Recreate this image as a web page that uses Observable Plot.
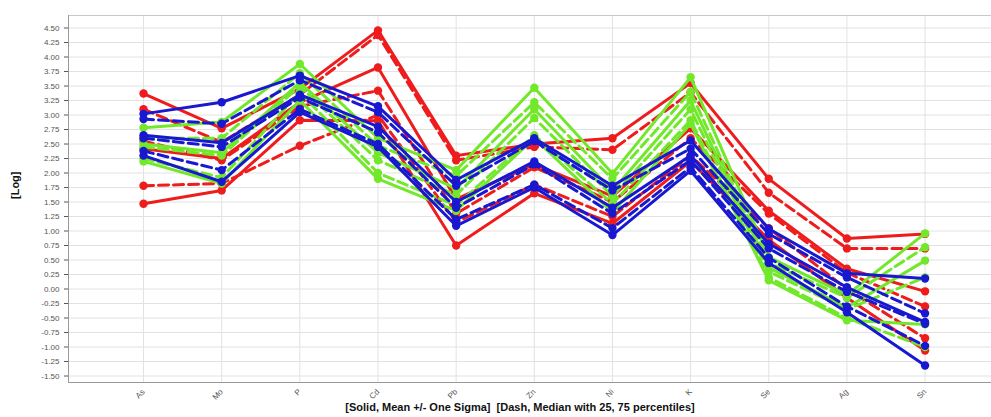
<!DOCTYPE html>
<html>
<head>
<meta charset="utf-8">
<script src="https://cdn.jsdelivr.net/npm/d3@7"></script>
<script src="https://cdn.jsdelivr.net/npm/@observablehq/plot@0.6"></script>
<style>
  html, body { margin: 0; padding: 0; background: #fff; overflow: hidden; }
  #chart svg { display: block; }
</style>
</head>
<body>
<div id="chart"></div>
<script>
const categories = ["As", "Mo", "P", "Cd", "Pb", "Zn", "Ni", "K", "Se", "Ag", "Sn"];
const yTickValues = [-1.5, -1.25, -1, -0.75, -0.5, -0.25, 0, 0.25, 0.5, 0.75, 1, 1.25, 1.5, 1.75, 2, 2.25, 2.5, 2.75, 3, 3.25, 3.5, 3.75, 4, 4.25, 4.5];
const yLabel = "[Log]";
const caption = "[Solid, Mean +/- One Sigma]  [Dash, Median with 25, 75 percentiles]";

// Red group
const redPlusSigma  = [3.37, 2.77, 3.45, 4.46, 2.30, 2.50, 2.60, 3.55, 1.90, 0.87, 0.95];
const redMean       = [2.42, 2.25, 3.22, 3.82, 1.55, 2.15, 1.60, 2.77, 1.35, 0.35, -0.04];
const redMinusSigma = [1.47, 1.70, 2.91, 2.90, 0.75, 1.65, 1.13, 2.20, 0.85, -0.15, -1.06];
const redP75        = [3.10, 2.53, 3.35, 4.38, 2.22, 2.45, 2.40, 3.39, 1.66, 0.70, 0.70];
const redMedian     = [2.55, 2.22, 3.15, 3.42, 1.30, 2.10, 1.50, 2.60, 1.30, 0.28, -0.30];
const redP25        = [1.78, 1.82, 2.47, 3.00, 1.15, 1.80, 1.25, 2.30, 1.05, 0.00, -0.85];

// Blue group
const bluePlusSigma  = [3.02, 3.22, 3.68, 3.15, 1.88, 2.60, 1.78, 2.56, 1.04, 0.27, 0.18];
const blueMean       = [2.65, 2.52, 3.35, 2.80, 1.50, 2.20, 1.40, 2.30, 0.78, 0.03, -0.57];
const blueMinusSigma = [2.30, 1.85, 3.05, 2.45, 1.09, 1.75, 0.93, 2.04, 0.45, -0.40, -1.32];
const blueP75        = [2.93, 2.85, 3.60, 3.05, 1.78, 2.55, 1.70, 2.42, 0.95, 0.20, -0.42];
const blueMedian     = [2.60, 2.45, 3.30, 2.70, 1.40, 2.15, 1.30, 2.22, 0.70, -0.05, -0.60];
const blueP25        = [2.38, 2.05, 3.10, 2.50, 1.20, 1.80, 1.05, 2.10, 0.54, -0.30, -0.98];

// Green group
const greenPlusSigma  = [2.78, 2.88, 3.88, 2.60, 2.05, 3.47, 1.99, 3.65, 0.55, -0.10, 0.96];
const greenMean       = [2.50, 2.35, 3.56, 2.35, 1.73, 3.10, 1.70, 3.25, 0.37, -0.32, 0.49];
const greenMinusSigma = [2.20, 1.82, 3.25, 1.90, 1.35, 2.60, 1.32, 2.85, 0.15, -0.54, -0.61];
const greenP75        = [2.60, 2.60, 3.72, 2.47, 1.95, 3.22, 1.90, 3.40, 0.45, -0.15, 0.72];
const greenMedian     = [2.45, 2.30, 3.50, 2.22, 1.62, 2.95, 1.60, 3.10, 0.30, -0.35, 0.20];
const greenP25        = [2.25, 1.92, 3.39, 2.00, 1.44, 2.65, 1.47, 2.91, 0.20, -0.50, -1.00];

const RED = "#ee1c1c", BLUE = "#1818d0", GREEN = "#72e82a";

const series = [
  {values: redPlusSigma, color: RED, dash: false},
  {values: redMean, color: RED, dash: false},
  {values: redMinusSigma, color: RED, dash: false},
  {values: redP75, color: RED, dash: true},
  {values: redMedian, color: RED, dash: true},
  {values: redP25, color: RED, dash: true},
  {values: greenPlusSigma, color: GREEN, dash: false},
  {values: greenMean, color: GREEN, dash: false},
  {values: greenMinusSigma, color: GREEN, dash: false},
  {values: greenP75, color: GREEN, dash: true},
  {values: greenMedian, color: GREEN, dash: true},
  {values: greenP25, color: GREEN, dash: true},
  {values: bluePlusSigma, color: BLUE, dash: false},
  {values: blueMean, color: BLUE, dash: false},
  {values: blueMinusSigma, color: BLUE, dash: false},
  {values: blueP75, color: BLUE, dash: true},
  {values: blueMedian, color: BLUE, dash: true},
  {values: blueP25, color: BLUE, dash: true}
];

const seriesMarks = series.flatMap(s => {
  const rows = s.values.map((v, i) => ({i, v}));
  return [
    Plot.line(rows, {x: "i", y: "v", stroke: s.color, strokeWidth: 3, strokeDasharray: s.dash ? "10,5" : null}),
    Plot.dot(rows, {x: "i", y: "v", r: 4.2, fill: s.color, stroke: null})
  ];
});

const chart = Plot.plot({
  width: 991,
  height: 417,
  marginLeft: 68,
  marginRight: 0,
  marginTop: 15,
  marginBottom: 35,
  style: {fontFamily: "'Liberation Sans', Arial, sans-serif", background: "#fff"},
  x: {type: "linear", domain: [-0.96, 10.85]},
  y: {domain: [-1.612, 4.716]},
  marks: [
    Plot.gridY(yTickValues, {stroke: "#e2e2e2", strokeOpacity: 1}),
    Plot.gridX(d3.range(categories.length), {stroke: "#e2e2e2", strokeOpacity: 1}),
    Plot.frame({stroke: "#c8c8c8"}),
    Plot.ruleX([-0.96], {stroke: "#999"}),
    Plot.ruleY([-1.612], {stroke: "#999"}),
    Plot.axisY(yTickValues, {tickFormat: d => d.toFixed(2), fontSize: 8, tickSize: 4, color: "#555", label: null}),
    Plot.axisX(d3.range(categories.length), {tickFormat: i => categories[i], tickRotate: -45, fontSize: 8, tickSize: 0, tickPadding: 8, color: "#555", label: null}),
    ...seriesMarks,
    Plot.text([yLabel], {frameAnchor: "left", dx: -53, rotate: -90, fontWeight: "bold", fontSize: 11, fill: "#111"}),
    Plot.text([caption], {frameAnchor: "bottom", dx: -10, dy: 28, fontWeight: "bold", fontSize: 11, fill: "#111"})
  ]
});

document.getElementById("chart").appendChild(chart);
</script>
</body>
</html>
